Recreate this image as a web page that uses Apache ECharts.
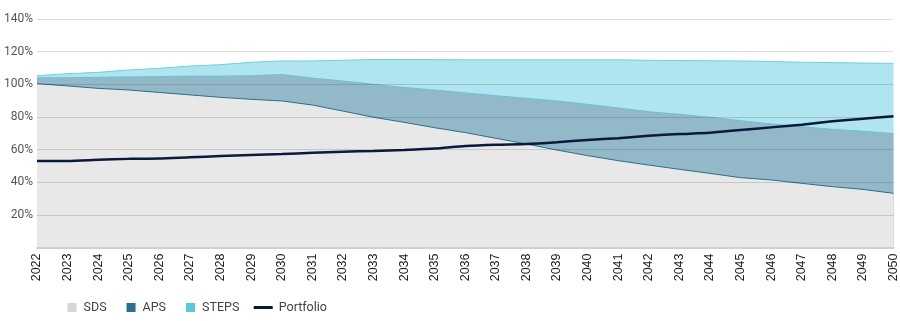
<!DOCTYPE html>
<html>
<head>
<meta charset="utf-8">
<script src="https://cdn.jsdelivr.net/npm/echarts@6/dist/echarts.min.js"></script>
<style>html,body{margin:0;padding:0;background:#fff}#c{width:900px;height:321px}</style>
</head>
<body>
<div id="c"></div>
<script>
const years = ['2022','2023','2024','2025','2026','2027','2028','2029','2030','2031','2032','2033','2034','2035','2036','2037','2038','2039','2040','2041','2042','2043','2044','2045','2046','2047','2048','2049','2050'];
const steps = [105.3,106.5,107.3,108.8,109.8,111.2,112,113.5,114.3,114.3,114.7,115.2,115.2,115.1,115,115,115,115,115,115,114.7,114.5,114.4,114.3,114,113.5,113.3,113,112.8];
const aps = [104,104,104.3,104.5,104.7,105,105,105.2,106,103.8,102,100,98,96.5,94.7,93,91.4,89.8,87.7,85.5,83.2,81.6,79.8,77.7,75.7,74,72.4,71.2,69.8];
const sds = [100.4,99,97.5,96.5,95,93.5,92,90.8,89.8,87.3,83.6,79.8,76.7,73.4,70.4,66.9,63.4,59.7,56.3,53.2,50.5,47.9,45.4,42.8,41.4,39.3,37.3,35.6,33.2];
const portfolio = [53,53,53.7,54.3,54.5,55.3,56,56.7,57.3,58,58.7,59.2,59.8,60.6,62.2,63,63.4,64.5,65.9,67,68.5,69.5,70.3,72,73.6,75.2,77.3,78.9,80.4];
const yTicks = [0,20,40,60,80,100,120,140];

const chart = echarts.init(document.getElementById('c'), null, {renderer:'canvas'});
chart.setOption({
  animation:false,
  grid:{left:37,right:6,top:19,bottom:73.5,containLabel:false},
  legend:[
    {left:67.5,top:301,padding:0,itemWidth:9,itemHeight:9,itemGap:20,
     textStyle:{fontFamily:'Roboto',fontSize:12.5,color:'#444',padding:[0,0,0,2]},
     data:[
       {name:'SDS',icon:'rect',itemStyle:{color:'#d6d6d6'}},
       {name:'APS',icon:'rect',itemStyle:{color:'#2a7190'}},
       {name:'STEPS',icon:'rect',itemStyle:{color:'#5bc8d9'}}
     ]},
    {left:253.7,top:301,padding:0,itemWidth:19,itemHeight:3,
     textStyle:{fontFamily:'Roboto',fontSize:12.5,color:'#444',padding:[0,0,0,1]},
     data:[{name:'Portfolio',icon:'rect',itemStyle:{color:'#0b1a3c'}}]}
  ],
  xAxis:{type:'category',data:years,boundaryGap:false,z:10,
    axisLine:{lineStyle:{color:'#cfcfcf',width:2}},
    axisTick:{show:false},
    axisLabel:{rotate:90,margin:6,fontFamily:'Liberation Sans',fontSize:12.5,color:'#222',padding:[0,0,8,0],interval:0}
  },
  yAxis:{type:'value',min:0,max:140,interval:20,z:10,
    axisLine:{show:false},axisTick:{show:false},
    splitLine:{lineStyle:{color:'rgba(0,0,0,0.14)',width:1}},
    axisLabel:{fontFamily:'Roboto',fontSize:12,color:'#555',margin:4,
      formatter:function(v){return v===0?'':v+'%';}}
  },
  series:[
    {name:'STEPS',type:'line',data:steps,symbol:'none',z:2,
     lineStyle:{color:'#6fcfe0',width:1},itemStyle:{color:'#5bc8d9'},
     areaStyle:{color:'#b0e4ee',opacity:1}},
    {name:'APS',type:'line',data:aps,symbol:'none',z:3,
     lineStyle:{color:'#68c3d3',width:1},itemStyle:{color:'#2a7190'},
     areaStyle:{color:'#93b9c8',opacity:1}},
    {name:'SDS',type:'line',data:sds,symbol:'none',z:4,
     lineStyle:{color:'#2a6f8c',width:1},itemStyle:{color:'#d6d6d6'},
     areaStyle:{color:'#e8e8e8',opacity:1}},
    {name:'Portfolio',type:'line',data:portfolio,symbol:'none',z:5,smooth:0.2,
     lineStyle:{color:'#0b1a3c',width:2.5},itemStyle:{color:'#0b1a3c'}}
  ]
});
</script>
</body>
</html>
